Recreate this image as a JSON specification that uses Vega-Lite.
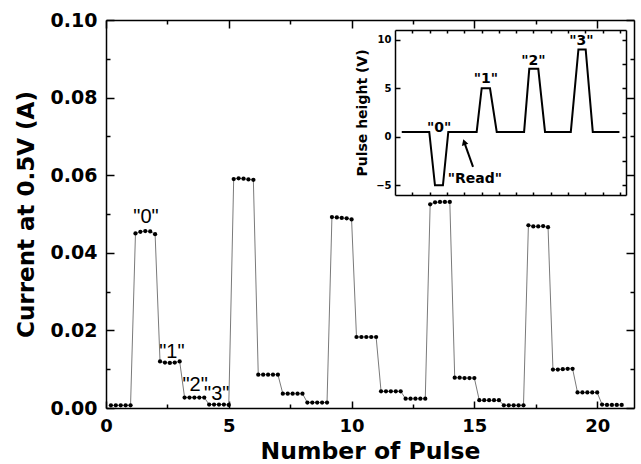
{
"$schema":"https://vega.github.io/schema/vega-lite/v6.json",
"width":528,"height":388,"autosize":"none",
"padding":{"left":106,"top":20,"right":7,"bottom":56},
"background":"white",
"config":{"view":{"stroke":null},"axis":{"grid":false,"domainColor":"black","domainWidth":1.5,"tickColor":"black","tickWidth":1.5,"labelColor":"black","titleColor":"black","labelFont":"DejaVu Sans","labelFontWeight":"bold","titleFont":"DejaVu Sans","titleFontWeight":"bold","labelFlush":false,"labelOverlap":false}},
"datasets":{
"main":[
{"x":0.2,"y":0.0007},{"x":0.4,"y":0.0007},{"x":0.6,"y":0.0007},{"x":0.8,"y":0.0007},{"x":1.0,"y":0.0007},
{"x":1.2,"y":0.0450},{"x":1.4,"y":0.0454},{"x":1.6,"y":0.0456},{"x":1.8,"y":0.0455},{"x":2.0,"y":0.0448},
{"x":2.2,"y":0.0120},{"x":2.4,"y":0.0117},{"x":2.6,"y":0.0116},{"x":2.8,"y":0.0117},{"x":3.0,"y":0.0120},
{"x":3.2,"y":0.0027},{"x":3.4,"y":0.0027},{"x":3.6,"y":0.0027},{"x":3.8,"y":0.0027},{"x":4.0,"y":0.0027},
{"x":4.2,"y":0.0009},{"x":4.4,"y":0.0009},{"x":4.6,"y":0.0009},{"x":4.8,"y":0.0009},{"x":5.0,"y":0.0008},
{"x":5.2,"y":0.0590},{"x":5.4,"y":0.0592},{"x":5.6,"y":0.0591},{"x":5.8,"y":0.0589},{"x":6.0,"y":0.0588},
{"x":6.2,"y":0.0086},{"x":6.4,"y":0.0086},{"x":6.6,"y":0.0086},{"x":6.8,"y":0.0086},{"x":7.0,"y":0.0086},
{"x":7.2,"y":0.0037},{"x":7.4,"y":0.0037},{"x":7.6,"y":0.0037},{"x":7.8,"y":0.0037},{"x":8.0,"y":0.0037},
{"x":8.2,"y":0.0014},{"x":8.4,"y":0.0014},{"x":8.6,"y":0.0014},{"x":8.8,"y":0.0014},{"x":9.0,"y":0.0014},
{"x":9.2,"y":0.0492},{"x":9.4,"y":0.0491},{"x":9.6,"y":0.0490},{"x":9.8,"y":0.0489},{"x":10.0,"y":0.0486},
{"x":10.2,"y":0.0183},{"x":10.4,"y":0.0183},{"x":10.6,"y":0.0183},{"x":10.8,"y":0.0183},{"x":11.0,"y":0.0183},
{"x":11.2,"y":0.0043},{"x":11.4,"y":0.0043},{"x":11.6,"y":0.0043},{"x":11.8,"y":0.0043},{"x":12.0,"y":0.0043},
{"x":12.2,"y":0.0024},{"x":12.4,"y":0.0024},{"x":12.6,"y":0.0024},{"x":12.8,"y":0.0024},{"x":13.0,"y":0.0024},
{"x":13.2,"y":0.0525},{"x":13.4,"y":0.0530},{"x":13.6,"y":0.0531},{"x":13.8,"y":0.0531},{"x":14.0,"y":0.0531},
{"x":14.2,"y":0.0078},{"x":14.4,"y":0.0078},{"x":14.6,"y":0.0077},{"x":14.8,"y":0.0077},{"x":15.0,"y":0.0077},
{"x":15.2,"y":0.0020},{"x":15.4,"y":0.0020},{"x":15.6,"y":0.0020},{"x":15.8,"y":0.0020},{"x":16.0,"y":0.0020},
{"x":16.2,"y":0.0007},{"x":16.4,"y":0.0007},{"x":16.6,"y":0.0007},{"x":16.8,"y":0.0007},{"x":17.0,"y":0.0007},
{"x":17.2,"y":0.0471},{"x":17.4,"y":0.0468},{"x":17.6,"y":0.0468},{"x":17.8,"y":0.0469},{"x":18.0,"y":0.0466},
{"x":18.2,"y":0.0099},{"x":18.4,"y":0.0099},{"x":18.6,"y":0.0100},{"x":18.8,"y":0.0101},{"x":19.0,"y":0.0101},
{"x":19.2,"y":0.0040},{"x":19.4,"y":0.0040},{"x":19.6,"y":0.0040},{"x":19.8,"y":0.0040},{"x":20.0,"y":0.0040},
{"x":20.2,"y":0.0009},{"x":20.4,"y":0.0008},{"x":20.6,"y":0.0008},{"x":20.8,"y":0.0008},{"x":21.0,"y":0.0008}
],
"mainLabels":[
{"x":1.63,"y":0.0493,"label":"\"0\""},
{"x":2.68,"y":0.0145,"label":"\"1\""},
{"x":3.63,"y":0.0059,"label":"\"2\""},
{"x":4.51,"y":0.0035,"label":"\"3\""}
],
"inset":[
{"t":0.39,"v":0.5},{"t":1.98,"v":0.5},{"t":2.31,"v":-5},{"t":2.77,"v":-5},{"t":3.08,"v":0.5},
{"t":4.72,"v":0.5},{"t":5.01,"v":5},{"t":5.49,"v":5},{"t":5.88,"v":0.5},
{"t":7.46,"v":0.5},{"t":7.76,"v":7},{"t":8.28,"v":7},{"t":8.67,"v":0.5},
{"t":10.16,"v":0.5},{"t":10.6,"v":9},{"t":11.02,"v":9},{"t":11.43,"v":0.5},{"t":12.97,"v":0.5}
],
"insetLabels":[
{"t":2.55,"v":0.95,"label":"\"0\""},
{"t":5.25,"v":5.96,"label":"\"1\""},
{"t":8.0,"v":7.85,"label":"\"2\""},
{"t":10.77,"v":9.83,"label":"\"3\""},
{"t":4.62,"v":-4.3,"label":"\"Read\""}
],
"arrow":[{"t":4.51,"v":-3.1,"t2":3.99,"v2":-0.5}],
"arrowHead":[{"t":4.0,"v":-0.55}]
},
"resolve":{"scale":{"x":"independent","y":"independent"},"axis":{"x":"independent","y":"independent"}},
"layer":[
{"data":{"name":"main"},
 "mark":{"type":"line","color":"#7a7a7a","strokeWidth":1},
 "encoding":{
  "x":{"field":"x","type":"quantitative","scale":{"domain":[0,21.5],"nice":false,"zero":false},
       "axis":{"orient":"bottom","values":[0,5,10,15,20],"tickSize":-7,"labelPadding":16.5,"labelFontSize":18,"title":"Number of Pulse","titleFontSize":23.5,"titleBaseline":"alphabetic","titleY":50.3}},
  "y":{"field":"y","type":"quantitative","scale":{"domain":[0,0.1],"nice":false,"zero":false},
       "axis":{"orient":"left","values":[0,0.02,0.04,0.06,0.08,0.1],"format":".2f","tickSize":-8,"labelPadding":17,"labelFontSize":19,"title":"Current at 0.5V (A)","titleFontSize":23,"titlePadding":12}}
 }},
{"data":{"name":"main"},
 "mark":{"type":"point","filled":true,"color":"black","size":18,"opacity":1},
 "encoding":{
  "x":{"field":"x","type":"quantitative","scale":{"domain":[0,21.5],"nice":false,"zero":false},
       "axis":{"orient":"top","values":[0,5,10,15,20],"tickSize":-8,"labels":false,"title":null}},
  "y":{"field":"y","type":"quantitative","scale":{"domain":[0,0.1],"nice":false,"zero":false},
       "axis":{"orient":"right","values":[0,0.02,0.04,0.06,0.08,0.1],"tickSize":-8,"labels":false,"title":null}}
 }},
{"data":{"name":"mainLabels"},
 "mark":{"type":"text","font":"Liberation Sans","fontSize":20,"color":"black","baseline":"middle","align":"center"},
 "encoding":{
  "x":{"field":"x","type":"quantitative","scale":{"domain":[0,21.5],"nice":false,"zero":false},
       "axis":{"orient":"bottom","values":[2.5,7.5,12.5,17.5],"tickSize":-4,"labels":false,"domain":false,"title":null}},
  "y":{"field":"y","type":"quantitative","scale":{"domain":[0,0.1],"nice":false,"zero":false},
       "axis":{"orient":"left","values":[0.01,0.03,0.05,0.07,0.09],"tickSize":-4,"labels":false,"domain":false,"title":null}},
  "text":{"field":"label"}
 }},
{"data":{"name":"main"},
 "mark":{"type":"point","opacity":0},
 "encoding":{
  "x":{"field":"x","type":"quantitative","scale":{"domain":[0,21.5],"nice":false,"zero":false},
       "axis":{"orient":"top","values":[2.5,7.5,12.5,17.5],"tickSize":-4,"labels":false,"domain":false,"title":null}},
  "y":{"field":"y","type":"quantitative","scale":{"domain":[0,0.1],"nice":false,"zero":false},
       "axis":{"orient":"right","values":[0.01,0.03,0.05,0.07,0.09],"tickSize":-4,"labels":false,"domain":false,"title":null}}
 }},
{"data":{"name":"inset"},
 "mark":{"type":"line","color":"black","strokeWidth":2},
 "encoding":{
  "x":{"field":"t","type":"quantitative","scale":{"domain":[0,13.35],"range":[289,520],"nice":false,"zero":false},
       "axis":{"orient":"bottom","offset":-213,"values":[1,2,3,4,5,6,7,8,9,10,11,12,13],"tickSize":-3,"labels":false,"title":null}},
  "y":{"field":"v","type":"quantitative","scale":{"domain":[-6,11],"range":[175,10],"nice":false,"zero":false},
       "axis":{"orient":"left","offset":-289,"values":[-5,0,5,10],"tickSize":-5,"labelPadding":9,"labelFontSize":10,"title":"Pulse height (V)","titleFontSize":14,"titlePadding":6}}
 }},
{"data":{"name":"insetLabels"},
 "mark":{"type":"text","font":"DejaVu Sans","fontWeight":"bold","fontSize":14,"color":"black","baseline":"middle","align":"center"},
 "encoding":{
  "x":{"field":"t","type":"quantitative","scale":{"domain":[0,13.35],"range":[289,520],"nice":false,"zero":false},
       "axis":{"orient":"top","offset":-10,"values":[1,2,3,4,5,6,7,8,9,10,11,12,13],"tickSize":-3,"labels":false,"title":null}},
  "y":{"field":"v","type":"quantitative","scale":{"domain":[-6,11],"range":[175,10],"nice":false,"zero":false},
       "axis":{"orient":"right","offset":-8,"values":[-5,-2.5,0,2.5,5,7.5,10],"tickSize":-4,"labels":false,"title":null}},
  "text":{"field":"label"}
 }},
{"data":{"name":"arrow"},
 "mark":{"type":"rule","color":"black","strokeWidth":2},
 "encoding":{
  "x":{"field":"t","type":"quantitative","scale":{"domain":[0,13.35],"range":[289,520],"nice":false,"zero":false},"axis":null},
  "y":{"field":"v","type":"quantitative","scale":{"domain":[-6,11],"range":[175,10],"nice":false,"zero":false},"axis":null},
  "x2":{"field":"t2"},
  "y2":{"field":"v2"}
 }},
{"data":{"name":"arrowHead"},
 "mark":{"type":"point","shape":"triangle-up","filled":true,"color":"black","size":45,"angle":-18,"opacity":1},
 "encoding":{
  "x":{"field":"t","type":"quantitative","scale":{"domain":[0,13.35],"range":[289,520],"nice":false,"zero":false},"axis":null},
  "y":{"field":"v","type":"quantitative","scale":{"domain":[-6,11],"range":[175,10],"nice":false,"zero":false},"axis":null}
 }}
]
}
